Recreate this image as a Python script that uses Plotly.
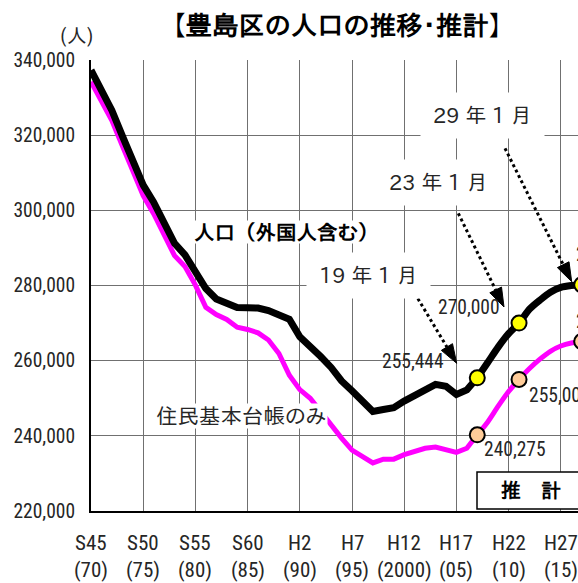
import math
import plotly.graph_objects as go

# ---------------- data ----------------
hist_years = [1970, 1971, 1972, 1973, 1974, 1975, 1976, 1977, 1978, 1979,
              1980, 1981, 1982, 1983, 1984, 1985, 1986, 1987, 1988, 1989,
              1990, 1991, 1992, 1993, 1994, 1995, 1996, 1997, 1998, 1999,
              2000, 2001, 2002, 2003, 2004, 2005, 2006, 2007]
hist_total = [337300, 332000, 326600, 319800, 313000, 306700, 302150, 296600, 291250, 288140,
              283350, 279200, 276400, 275500, 274120, 274100, 274000, 273330, 272250, 271000,
              266350, 263400, 261100, 258200, 254600, 252000, 249300, 246500, 247000, 247500,
              249250, 250770, 252480, 253700, 253200, 251000, 252200, 255444]
hist_resident = [334200, 329100, 323900, 317150, 310300, 303900, 299100, 293500, 287950, 285030,
                 280100, 274200, 272250, 270950, 268900, 268300, 267400, 265500, 261900, 256100,
                 252300, 250000, 246300, 242700, 239400, 236200, 234400, 232800, 233800, 233800,
                 235000, 236000, 236700, 237000, 236200, 235600, 236700, 240275]

proj_years = [2007, 2008, 2009, 2010, 2011, 2012, 2013, 2014, 2015, 2016, 2017]
proj_total = [255444, 259500, 263600, 267200, 270000, 273700, 276100, 278200, 279500, 280000, 280200]
proj_resident = [240275, 243700, 247900, 251800, 255000, 257900, 260400, 262500, 263900, 264700, 265100]

key_years = [2007, 2011, 2017]
key_labels = ["19 年 1 月", "23 年 1 月", "29 年 1 月"]

tick_years = [1970, 1975, 1980, 1985, 1990, 1995, 2000, 2005, 2010, 2015]
tick_era = ["S45", "S50", "S55", "S60", "H2", "H7", "H12", "H17", "H22", "H27"]
tick_ad = ["(70)", "(75)", "(80)", "(85)", "(90)", "(95)", "(2000)", "(05)", "(10)", "(15)"]
y_ticks = [220000, 240000, 260000, 280000, 300000, 320000, 340000]

title_text = "【豊島区の人口の推移･推計】"
unit_text = "(人)"
total_name = "人口（外国人含む）"
resident_name = "住民基本台帳のみ"
estimate_text = "推　計"

# ---------------- geometry / style ----------------
W, H = 578, 583
ML, MT, MB = 91, 60, 72
PLOT_H = H - MT - MB
X0 = 1970
PX_PER_YEAR = 10.44
XMAX = X0 + (W - ML) / PX_PER_YEAR
YMIN, YMAX = 220000, 340000

NUM_FONT = "Roboto Condensed, Archivo Narrow, Liberation Sans, sans-serif"
JP_FONT = "IPAPGothic, Noto Sans CJK JP, sans-serif"
JP_MONO = "IPAGothic, IPAPGothic, Noto Sans CJK JP, sans-serif"
TXT = "#262626"
GRID = "#707070"


def px2x(px):
    return X0 + (px - ML) / PX_PER_YEAR


def py2y(py):
    return YMAX - (py - MT) / PLOT_H * (YMAX - YMIN)


def x2px(x):
    return ML + (x - X0) * PX_PER_YEAR


def pyp(py):
    return (MT + PLOT_H - py) / PLOT_H


def pxp(px):
    return (px - ML) / (W - ML)


fig = go.Figure()

# lines
fig.add_trace(go.Scatter(x=hist_years, y=hist_resident, mode="lines",
                         line=dict(color="#FF00FF", width=5), hoverinfo="skip"))
fig.add_trace(go.Scatter(x=proj_years, y=proj_resident, mode="lines",
                         line=dict(color="#FF00FF", width=5, shape="spline", smoothing=0.8),
                         hoverinfo="skip"))
fig.add_trace(go.Scatter(x=hist_years, y=hist_total, mode="lines",
                         line=dict(color="#000000", width=7), hoverinfo="skip"))
fig.add_trace(go.Scatter(x=proj_years, y=proj_total, mode="lines",
                         line=dict(color="#000000", width=7, shape="spline", smoothing=0.8),
                         hoverinfo="skip"))

key_idx = [proj_years.index(k) for k in key_years]
key_total = [proj_total[i] for i in key_idx]
key_resident = [proj_resident[i] for i in key_idx]

fig.add_trace(go.Scatter(x=key_years, y=key_resident, mode="markers",
                         marker=dict(size=15, color="#FFCC99", line=dict(color="#000000", width=2))))
fig.add_trace(go.Scatter(x=key_years, y=key_total, mode="markers",
                         marker=dict(size=15, color="#FFFF00", line=dict(color="#000000", width=2))))

annotations = []
shapes = []

# title & unit
annotations.append(dict(xref="paper", yref="paper", x=pxp(337), y=pyp(25),
                        text="<b>" + title_text + "</b>", showarrow=False,
                        font=dict(family=JP_FONT, size=26.5, color="#000"),
                        xanchor="center", yanchor="middle"))
annotations.append(dict(xref="paper", yref="paper", x=pxp(76), y=pyp(36),
                        text=unit_text, showarrow=False,
                        font=dict(family=JP_FONT, size=20, color=TXT),
                        xanchor="center", yanchor="middle"))

# x tick labels (two rows)
for yr, era, ad in zip(tick_years, tick_era, tick_ad):
    annotations.append(dict(xref="x", yref="paper", x=yr, y=pyp(542.5),
                            text=era, showarrow=False, font=dict(family=NUM_FONT, size=21, color=TXT),
                            xanchor="center", yanchor="middle"))
    annotations.append(dict(xref="x", yref="paper", x=yr, y=pyp(570),
                            text=ad, showarrow=False, font=dict(family=NUM_FONT, size=21, color=TXT),
                            xanchor="center", yanchor="middle"))

# series names
annotations.append(dict(x=px2x(286), y=py2y(232), text="<b>" + total_name + "</b>", showarrow=False,
                        font=dict(family=JP_MONO, size=20.5, color="#000"), bgcolor="#ffffff",
                        borderpad=1, xanchor="center", yanchor="middle"))
annotations.append(dict(x=px2x(241), y=py2y(416), text=resident_name, showarrow=False,
                        font=dict(family=JP_FONT, size=21.5, color=TXT), bgcolor="#ffffff",
                        borderpad=1, xanchor="center", yanchor="middle"))

# date call-outs
label_pos = [(368, 275), (438, 182), (482, 115)]
for txt, (lx, ly) in zip(key_labels, label_pos):
    annotations.append(dict(x=px2x(lx), y=py2y(ly), text=txt, showarrow=False,
                            font=dict(family=JP_FONT, size=21, color=TXT), bgcolor="#ffffff",
                            borderpad=12, xanchor="center", yanchor="middle"))

# dotted arrows
arrows = [((411.7, 288.3), (456.7, 363.3)),
          ((458.3, 213.3), (504.0, 307.0)),
          ((505.0, 148.3), (571.7, 281.7))]
HEAD_L, HEAD_W = 19, 6.5
for (sx, sy), (tx, ty) in arrows:
    dx, dy = tx - sx, ty - sy
    L = math.hypot(dx, dy)
    ux, uy = dx / L, dy / L
    bx, by = tx - ux * HEAD_L, ty - uy * HEAD_L
    shapes.append(dict(type="line", xref="x", yref="y", x0=px2x(sx), y0=py2y(sy),
                       x1=px2x(bx), y1=py2y(by), line=dict(color="#000", width=3, dash="dot")))
    p1 = (bx - uy * HEAD_W, by + ux * HEAD_W)
    p2 = (bx + uy * HEAD_W, by - ux * HEAD_W)
    path = "M {},{} L {},{} L {},{} Z".format(px2x(tx), py2y(ty), px2x(p1[0]), py2y(p1[1]),
                                              px2x(p2[0]), py2y(p2[1]))
    shapes.append(dict(type="path", xref="x", yref="y", path=path,
                       fillcolor="#000", line=dict(color="#000", width=1)))


# value labels
def add_value(xv, yv, anchor, dxpx, dypx):
    xp = x2px(xv)
    if xp <= W:
        xr, xx = "x", xv
    else:
        xr, xx = "paper", pxp(xp)
    annotations.append(dict(xref=xr, yref="y", x=xx, y=yv, text=f"{yv:,}", showarrow=False,
                            font=dict(family=NUM_FONT, size=19.5, color=TXT),
                            xanchor=anchor, yanchor="middle", xshift=dxpx, yshift=dypx))


offs_total = [("right", -31, 16), ("right", -17, 16), ("left", -8, 30)]
offs_res = [("left", 5, -15), ("left", 8, -16), ("left", -8, 20)]
for xv, yv, (a, dx, dy) in zip(key_years, key_total, offs_total):
    add_value(xv, yv, a, dx, dy)
for xv, yv, (a, dx, dy) in zip(key_years, key_resident, offs_res):
    add_value(xv, yv, a, dx, dy)

# 推計 box
shapes.append(dict(type="rect", xref="paper", yref="paper",
                   x0=pxp(477), x1=1.1, y0=pyp(509), y1=pyp(472),
                   fillcolor="#ffffff", line=dict(color="#000", width=1.5), layer="above"))
annotations.append(dict(xref="paper", yref="paper", x=pxp(531), y=pyp(490),
                        text="<b>" + estimate_text + "</b>",
                        showarrow=False, font=dict(family=JP_FONT, size=20, color="#000"),
                        xanchor="center", yanchor="middle"))

fig.update_layout(
    width=W, height=H,
    margin=dict(l=ML, r=0, t=MT, b=MB, pad=0),
    paper_bgcolor="#ffffff", plot_bgcolor="#ffffff",
    showlegend=False,
    annotations=annotations, shapes=shapes,
    xaxis=dict(range=[X0, XMAX], tickvals=tick_years, showticklabels=False,
               showgrid=True, gridcolor=GRID, gridwidth=1, zeroline=False,
               showline=True, linecolor="#000", linewidth=2, ticks="", fixedrange=True),
    yaxis=dict(range=[YMIN, YMAX], tickvals=y_ticks, ticktext=[f"{v:,}" for v in y_ticks],
               tickfont=dict(family=NUM_FONT, size=19.5, color=TXT),
               showgrid=True, gridcolor=GRID, gridwidth=1, zeroline=False,
               showline=True, linecolor="#000", linewidth=2, ticks="",
               ticklabelstandoff=10, fixedrange=True),
)

fig.write_html("out.html", config={"displayModeBar": False})
